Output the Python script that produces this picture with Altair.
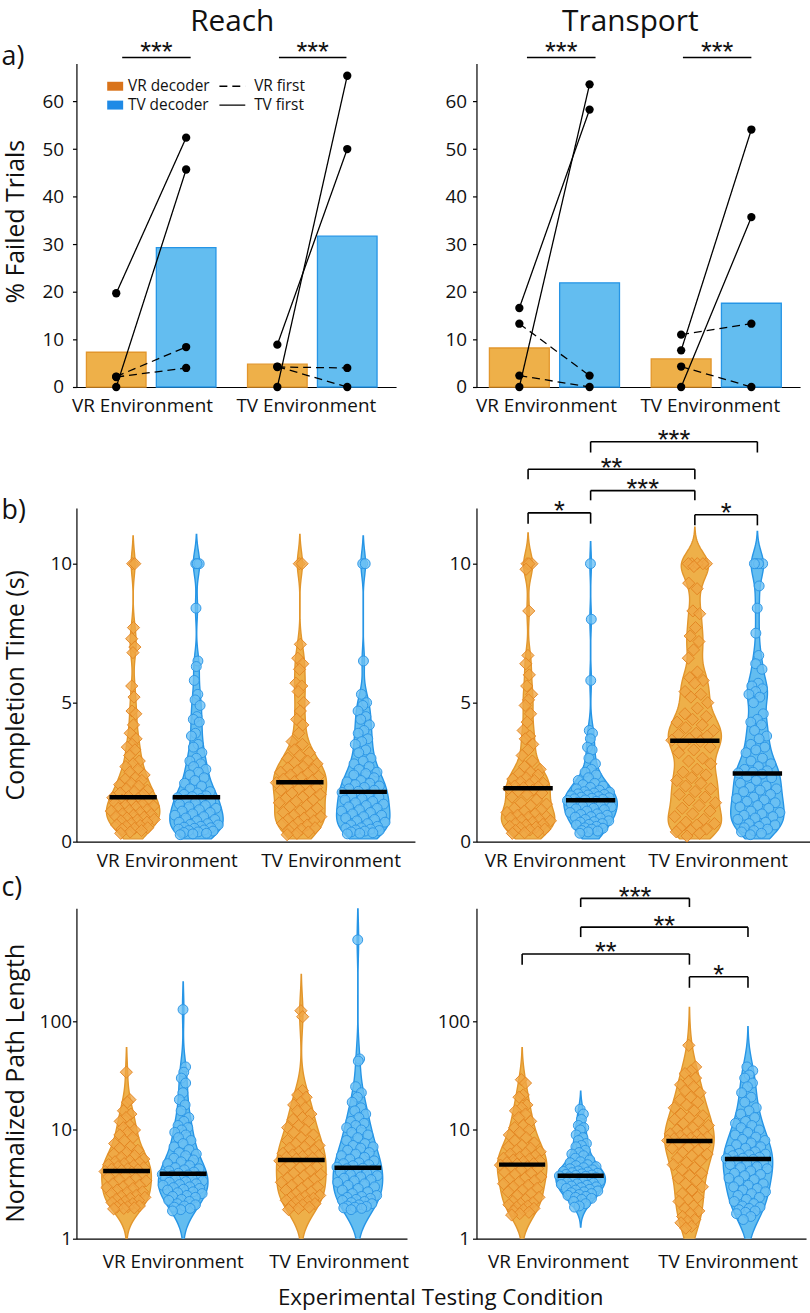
import altair as alt
import numpy as np
import pandas as pd

FONT = "Open Sans"
STAR_FONT = "Liberation Sans"
INK = "#111111"

# ------------------------------------------------------------------ data
ENVIRONMENTS = ["VR Environment", "TV Environment"]
DECODERS = ["VR", "TV"]

# a) % failed trials, bar heights per environment [VR env, TV env]
reach_fail_bar_vrdec = [7.3, 4.8]
reach_fail_bar_tvdec = [29.3, 31.7]
transport_fail_bar_vrdec = [8.2, 5.9]
transport_fail_bar_tvdec = [21.9, 17.6]

# individual participants (same order in every list)
participant_order = ["TV first", "TV first", "VR first", "VR first"]
reach_fail_vrdec_vrenv = [19.7, 0.0, 2.2, 2.1]
reach_fail_tvdec_vrenv = [52.4, 45.7, 8.4, 4.0]
reach_fail_vrdec_tvenv = [8.9, 0.0, 4.2, 4.3]
reach_fail_tvdec_tvenv = [50.0, 65.4, 4.0, 0.0]
transport_fail_vrdec_vrenv = [16.6, 0.0, 13.3, 2.4]
transport_fail_tvdec_vrenv = [58.3, 63.6, 2.4, 0.0]
transport_fail_vrdec_tvenv = [7.7, 0.0, 11.0, 4.3]
transport_fail_tvdec_tvenv = [54.1, 35.7, 13.3, 0.0]
fail_sig_labels = ["***", "***"]

# b) completion time (s)
reach_time_vrenv_vrdec = [10.0, 10.0, 7.7, 7.3, 7.0, 6.8, 5.6, 5.2, 4.7, 4.6, 4.2, 3.9, 3.7, 3.5, 3.4, 3.3, 3.1,
                          2.9, 2.8, 2.7, 2.6, 2.5, 2.4, 2.3, 2.25, 2.2, 2.1, 2.05, 2.0, 1.9, 1.85, 1.8, 1.75, 1.7, 1.62,
                          1.58, 1.55, 1.5, 1.45, 1.42, 1.4, 1.35, 1.3, 1.28, 1.25, 1.2, 1.15, 1.12, 1.1, 1.05, 1.0,
                          0.98, 0.95, 0.9, 0.88, 0.85, 0.8, 0.78, 0.75, 0.7, 0.65, 0.6, 0.58, 0.55, 0.5, 0.48, 0.45,
                          0.4, 0.35, 0.3]
reach_time_vrenv_tvdec = [10.0, 10.0, 10.0, 8.4, 6.5, 6.3, 5.8, 5.3, 5.1, 4.9, 4.5, 4.4, 4.3, 3.9, 3.8, 3.5, 3.4,
                          3.2, 3.0, 2.9, 2.8, 2.7, 2.6, 2.5, 2.4, 2.3, 2.2, 2.1, 2.0, 1.9, 1.8, 1.75, 1.7, 1.65, 1.62,
                          1.58, 1.55, 1.5, 1.45, 1.4, 1.35, 1.3, 1.25, 1.2, 1.15, 1.1, 1.05, 1.0, 0.95, 0.9, 0.85,
                          0.8, 0.75, 0.7, 0.65, 0.62, 0.6, 0.55, 0.52, 0.5, 0.48, 0.45, 0.42, 0.4, 0.38, 0.35, 0.33,
                          0.3, 0.28, 0.25]
reach_time_tvenv_vrdec = [10.0, 10.0, 7.1, 6.6, 6.4, 6.2, 5.7, 5.6, 5.4, 5.0, 4.7, 4.4, 4.2, 3.9, 3.6, 3.5, 3.3,
                          3.2, 3.1, 3.0, 2.9, 2.85, 2.8, 2.7, 2.65, 2.6, 2.55, 2.5, 2.45, 2.4, 2.35, 2.3, 2.25, 2.2,
                          2.16, 2.12, 2.05, 2.0, 1.95, 1.9, 1.85, 1.8, 1.75, 1.7, 1.6, 1.55, 1.5, 1.45, 1.4, 1.3,
                          1.25, 1.2, 1.1, 1.05, 1.0, 0.95, 0.9, 0.85, 0.8, 0.75, 0.7, 0.65, 0.6, 0.55, 0.5, 0.45,
                          0.4, 0.35, 0.3, 0.25]
reach_time_tvenv_tvdec = [10.0, 10.0, 6.5, 5.3, 5.0, 4.9, 4.7, 4.5, 4.4, 4.2, 4.0, 3.9, 3.7, 3.6, 3.5, 3.3, 3.2,
                          3.0, 2.9, 2.8, 2.7, 2.6, 2.5, 2.45, 2.4, 2.3, 2.2, 2.15, 2.1, 2.05, 2.0, 1.95, 1.9, 1.85,
                          1.81, 1.77, 1.7, 1.65, 1.6, 1.55, 1.5, 1.45, 1.4, 1.35, 1.3, 1.25, 1.2, 1.15, 1.1, 1.05,
                          1.0, 0.95, 0.9, 0.85, 0.8, 0.75, 0.7, 0.65, 0.6, 0.55, 0.5, 0.48, 0.45, 0.42, 0.4, 0.38,
                          0.35, 0.32, 0.3, 0.28]
transport_time_vrenv_vrdec = [10.0, 10.0, 10.0, 9.8, 8.3, 6.7, 6.4, 6.0, 5.6, 5.3, 5.1, 4.9, 4.6, 4.3, 4.0, 3.8,
                              3.7, 3.5, 3.3, 3.1, 2.9, 2.7, 2.6, 2.5, 2.45, 2.4, 2.3, 2.25, 2.2, 2.15, 2.1, 2.05, 2.0,
                              1.97, 1.94, 1.9, 1.85, 1.8, 1.75, 1.7, 1.6, 1.5, 1.4, 1.35, 1.3, 1.2, 1.15, 1.1, 1.05,
                              1.0, 0.95, 0.9, 0.88, 0.85, 0.8, 0.78, 0.75, 0.7, 0.65, 0.62, 0.6, 0.55, 0.52, 0.5,
                              0.45, 0.42, 0.4, 0.35, 0.32, 0.3]
transport_time_vrenv_tvdec = [10.0, 8.0, 5.8, 4.0, 3.9, 3.7, 3.4, 3.3, 3.0, 2.8, 2.6, 2.5, 2.4, 2.3, 2.2, 2.1,
                              2.05, 2.0, 1.95, 1.9, 1.85, 1.8, 1.78, 1.75, 1.72, 1.7, 1.68, 1.65, 1.62, 1.6, 1.58,
                              1.56, 1.54, 1.52, 1.5, 1.48, 1.45, 1.42, 1.4, 1.38, 1.35, 1.3, 1.28, 1.25, 1.2, 1.18,
                              1.15, 1.1, 1.05, 1.0, 0.98, 0.95, 0.9, 0.88, 0.85, 0.8, 0.75, 0.72, 0.7, 0.65, 0.62,
                              0.6, 0.55, 0.5, 0.48, 0.45, 0.4, 0.38, 0.35, 0.3]
transport_time_tvenv_vrdec = [10.0, 10.0, 10.0, 10.0, 10.0, 9.9, 9.3, 9.1, 8.3, 8.2, 7.7, 7.4, 7.2, 6.9, 6.6, 6.1,
                              5.9, 5.8, 5.7, 5.4, 5.3, 5.2, 5.0, 4.8, 4.6, 4.5, 4.4, 4.3, 4.2, 4.1, 4.0, 3.9, 3.85,
                              3.8, 3.7, 3.65, 3.61, 3.5, 3.4, 3.3, 3.2, 3.0, 2.9, 2.8, 2.6, 2.5, 2.4, 2.3, 2.2, 2.1,
                              2.0, 1.9, 1.8, 1.7, 1.6, 1.5, 1.4, 1.3, 1.2, 1.1, 1.0, 0.9, 0.8, 0.7, 0.65, 0.6, 0.5,
                              0.45, 0.4, 0.35, 0.3, 0.2]
transport_time_tvenv_tvdec = [10.0, 10.0, 10.0, 10.0, 9.2, 8.4, 7.5, 6.7, 6.4, 6.2, 5.7, 5.6, 5.5, 5.4, 5.3, 5.2,
                              5.0, 4.6, 4.4, 4.3, 4.2, 4.0, 3.8, 3.7, 3.5, 3.4, 3.3, 3.2, 3.0, 2.9, 2.8, 2.7, 2.6,
                              2.55, 2.5, 2.47, 2.43, 2.35, 2.3, 2.2, 2.1, 2.0, 1.95, 1.9, 1.85, 1.8, 1.7, 1.6, 1.55,
                              1.5, 1.45, 1.4, 1.3, 1.25, 1.2, 1.1, 1.05, 1.0, 0.95, 0.9, 0.85, 0.8, 0.7, 0.65, 0.6,
                              0.55, 0.5, 0.45, 0.4, 0.35, 0.3, 0.25]
time_brackets = [((0, "VR"), (0, "TV"), 11.83, 11.44, "*"),
                 ((0, "TV"), (1, "VR"), 12.63, 12.28, "***"),
                 ((0, "VR"), (1, "VR"), 13.40, 13.04, "**"),
                 ((0, "TV"), (1, "TV"), 14.39, 14.00, "***"),
                 ((1, "VR"), (1, "TV"), 11.76, 11.38, "*")]

# c) normalized path length
reach_path_vrenv_vrdec = [34, 19, 18, 15, 14, 13, 12, 11, 10.5, 10, 9.5, 9, 8.5, 8, 7.5, 7, 6.8, 6.5, 6.2, 6,
                          5.8, 5.6, 5.4, 5.2, 5.1, 5, 4.9, 4.8, 4.7, 4.6, 4.5, 4.4, 4.35, 4.3, 4.25, 4.15, 4.1,
                          4.0, 3.9, 3.8, 3.7, 3.6, 3.5, 3.4, 3.3, 3.2, 3.1, 3.0, 2.95, 2.9, 2.8, 2.7, 2.65, 2.6,
                          2.5, 2.45, 2.4, 2.35, 2.3, 2.25, 2.2, 2.15, 2.1, 2.05, 2.0, 1.97, 1.95, 1.92, 1.9, 1.88]
reach_path_vrenv_tvdec = [128, 38, 34, 30, 27, 22, 19, 17, 15, 13, 12, 11, 10.5, 10, 9.5, 9, 8.5, 8, 7.5, 7,
                          6.6, 6.2, 6, 5.8, 5.5, 5.3, 5.1, 4.9, 4.7, 4.5, 4.4, 4.3, 4.2, 4.1, 4.0, 3.9, 3.85, 3.8,
                          3.75, 3.7, 3.6, 3.55, 3.5, 3.4, 3.35, 3.3, 3.2, 3.15, 3.1, 3.0, 2.95, 2.9, 2.85, 2.8,
                          2.7, 2.65, 2.6, 2.5, 2.45, 2.4, 2.3, 2.25, 2.2, 2.1, 2.05, 2.0, 1.95, 1.9, 1.85, 1.8]
reach_path_tvenv_vrdec = [125, 110, 23, 21, 20, 18, 17, 16, 15, 14, 13, 12.5, 12, 11, 10.5, 10, 9.5, 9, 8.5, 8,
                          7.8, 7.5, 7.2, 7, 6.8, 6.5, 6.3, 6.1, 6, 5.9, 5.8, 5.7, 5.6, 5.5, 5.4, 5.2, 5.0, 4.8,
                          4.6, 4.5, 4.3, 4.2, 4.0, 3.9, 3.8, 3.6, 3.5, 3.4, 3.3, 3.2, 3.1, 3.0, 2.9, 2.8, 2.7,
                          2.6, 2.5, 2.45, 2.4, 2.35, 2.3, 2.25, 2.2, 2.15, 2.1, 2.05, 2.0, 1.95, 1.9, 1.85]
reach_path_tvenv_tvdec = [560, 45, 43, 25, 22, 20, 18, 16, 15, 14, 13, 12, 11.5, 11, 10.5, 10, 9.5, 9, 8.5, 8,
                          7.5, 7.2, 7, 6.8, 6.5, 6.2, 6, 5.8, 5.6, 5.4, 5.2, 5, 4.9, 4.8, 4.7, 4.55, 4.45, 4.4,
                          4.3, 4.2, 4.1, 4.0, 3.9, 3.8, 3.7, 3.6, 3.5, 3.4, 3.3, 3.2, 3.1, 3.0, 2.9, 2.8, 2.7,
                          2.6, 2.5, 2.45, 2.4, 2.35, 2.3, 2.25, 2.2, 2.15, 2.1, 2.05, 2.0, 1.98, 1.95, 1.92, 1.9,
                          1.85]
transport_path_vrenv_vrdec = [29, 27, 21, 20, 17, 16, 15, 14, 13, 12, 11, 10.5, 10, 9.5, 9, 8.5, 8, 7.6, 7.2, 7,
                              6.8, 6.5, 6.3, 6.1, 6, 5.8, 5.6, 5.5, 5.4, 5.3, 5.2, 5.1, 5, 4.9, 4.85, 4.75, 4.6,
                              4.5, 4.4, 4.3, 4.1, 4.0, 3.9, 3.7, 3.6, 3.5, 3.4, 3.3, 3.2, 3.1, 3.0, 2.9, 2.8, 2.7,
                              2.6, 2.5, 2.4, 2.3, 2.2, 2.15, 2.1, 2.05, 2.0, 1.95, 1.9, 1.85, 1.8, 1.75, 1.7, 1.65]
transport_path_vrenv_tvdec = [15.5, 14, 12.5, 11, 10.5, 10, 9, 8.5, 8, 7.5, 7.2, 7, 6.5, 6.2, 6, 5.8, 5.5, 5.3,
                              5.1, 5, 4.8, 4.7, 4.6, 4.5, 4.4, 4.3, 4.2, 4.15, 4.1, 4.05, 4, 3.95, 3.9, 3.85, 3.82,
                              3.78, 3.75, 3.7, 3.65, 3.6, 3.55, 3.5, 3.45, 3.4, 3.35, 3.3, 3.25, 3.2, 3.15, 3.1,
                              3.05, 3.0, 2.95, 2.9, 2.85, 2.8, 2.75, 2.7, 2.65, 2.6, 2.55, 2.5, 2.45, 2.4, 2.35,
                              2.3, 2.2, 2.1, 2.0, 1.95]
transport_path_tvenv_vrdec = [60, 38, 35, 33, 30, 28, 26, 25, 23, 22, 20, 19, 18, 17, 16, 15, 14, 13.5, 13, 12.5,
                              12, 11.5, 11, 10.5, 10, 9.8, 9.5, 9.2, 9, 8.8, 8.6, 8.4, 8.3, 8.2, 8.1, 8.0, 7.8, 7.5,
                              7.2, 7.0, 6.8, 6.5, 6.2, 6.0, 5.8, 5.5, 5.2, 5.0, 4.8, 4.5, 4.3, 4.0, 3.8, 3.6, 3.4,
                              3.2, 3.0, 2.8, 2.6, 2.4, 2.3, 2.2, 2.0, 1.9, 1.8, 1.7, 1.6, 1.5, 1.45, 1.4, 1.3, 1.25]
transport_path_tvenv_tvdec = [38, 35, 32, 30, 27, 25, 22, 20, 18, 16, 15, 14, 13, 12, 11.5, 11, 10.5, 10, 9.5, 9,
                              8.6, 8.2, 8, 7.6, 7.3, 7, 6.8, 6.5, 6.3, 6.1, 6, 5.9, 5.8, 5.6, 5.5, 5.45, 5.35, 5.2,
                              5.0, 4.9, 4.8, 4.6, 4.5, 4.4, 4.2, 4.0, 3.9, 3.8, 3.6, 3.5, 3.4, 3.2, 3.1, 3.0, 2.9,
                              2.8, 2.7, 2.6, 2.5, 2.4, 2.3, 2.2, 2.1, 2.0, 1.95, 1.9, 1.85, 1.8, 1.75, 1.7, 1.6, 1.5]
path_brackets = [((0, "TV"), (1, "VR"), 1349, 1122, "***"),
                 ((0, "TV"), (1, "TV"), 733, 594, "**"),
                 ((0, "VR"), (1, "VR"), 415, 331, "**"),
                 ((1, "VR"), (1, "TV"), 256, 203, "*")]

# ------------------------------------------------------------------ styles
BAR_FILL = {"VR": "#EEB049", "TV": "#63BDF0"}
BAR_EDGE = {"VR": "#E2962C", "TV": "#2695E6"}
SWATCH = {"VR": "#D9731A", "TV": "#1F8AE6"}
VIO_FILL = {"VR": "#F7CB7E", "TV": "#9ED4F6"}
VIO_EDGE = {"VR": "#F0AD48", "TV": "#62B9F0"}
PT_FILL = {"VR": "#F0A645", "TV": "#6BC0F3"}
PT_EDGE = {"VR": "#E28522", "TV": "#2A95E5"}
ENV_EXPR = "datum.value < 1.5 ? 'VR Environment' : 'TV Environment'"


def env_axis(values, pad):
    return alt.Axis(values=values, labelExpr=ENV_EXPR, ticks=False, tickSize=0, labelPadding=pad,
                    title=None, grid=False, labelFlush=False, labelOverlap=False, labelAngle=0)


def y_axis(values, pad, title=None, title_y=0, fmt=None):
    kw = dict(values=values, tickSize=4, labelPadding=pad, grid=False)
    if fmt:
        kw["format"] = fmt
    if title:
        kw.update(title=title, titleX=-61, titleY=title_y, titleAngle=-90, titleAlign="center",
                  titleBaseline="middle")
    else:
        kw["title"] = None
    return alt.Axis(**kw)


def text_layer(text, x, y, size, font=FONT, align="center", baseline="alphabetic"):
    return alt.Chart(pd.DataFrame({"t": [text]})).mark_text(
        font=font, fontSize=size, align=align, baseline=baseline, color=INK
    ).encode(text="t:N", x=alt.value(x), y=alt.value(y))


# ------------------------------------------------------------------ row a
BAR_OFF = 0.217
BAR_HALF = 0.185


def failed_panel(bar_vr, bar_tv, vr_pts, tv_pts, xdom, width, label_vals, ylab_pad, sig_offsets,
                 extra_layers, ytitle=None):
    xs = alt.Scale(domain=xdom, nice=False, zero=False)
    ys = alt.Scale(domain=[0, 68], nice=False, zero=False)
    xax = env_axis(label_vals, 10)
    yax = y_axis([0, 10, 20, 30, 40, 50, 60], ylab_pad, ytitle, 159)

    bar_rows = []
    for e in range(2):
        bar_rows.append({"dec": "VR", "value": bar_vr[e], "pos": e + 1 - BAR_OFF})
        bar_rows.append({"dec": "TV", "value": bar_tv[e], "pos": e + 1 + BAR_OFF})
    bars = alt.Chart(pd.DataFrame(bar_rows)).transform_calculate(
        xl=f"datum.pos - {BAR_HALF}", xr=f"datum.pos + {BAR_HALF}", base="0"
    ).mark_rect(strokeWidth=1.3).encode(
        x=alt.X("xl:Q", scale=xs, axis=xax), x2="xr:Q",
        y=alt.Y("value:Q", scale=ys, axis=yax), y2="base:Q",
        fill=alt.Fill("dec:N", scale=alt.Scale(domain=DECODERS, range=[BAR_FILL["VR"], BAR_FILL["TV"]]), legend=None),
        stroke=alt.Stroke("dec:N", scale=alt.Scale(domain=DECODERS, range=[BAR_EDGE["VR"], BAR_EDGE["TV"]]), legend=None),
    )

    line_rows = []
    for e in range(2):
        for p in range(len(participant_order)):
            lid = f"{e}-{p}"
            line_rows.append({"lid": lid, "order": participant_order[p], "x": e + 1 - BAR_OFF, "y": vr_pts[e][p]})
            line_rows.append({"lid": lid, "order": participant_order[p], "x": e + 1 + BAR_OFF, "y": tv_pts[e][p]})
    ldf = pd.DataFrame(line_rows)
    lines = alt.Chart(ldf).mark_line(color="black", strokeWidth=1.3).encode(
        x=alt.X("x:Q", scale=xs, axis=xax), y=alt.Y("y:Q", scale=ys, axis=yax), detail="lid:N",
        strokeDash=alt.StrokeDash("order:N", scale=alt.Scale(domain=["VR first", "TV first"], range=[[8, 5], [1, 0]]), legend=None),
    )
    dots = alt.Chart(ldf).mark_circle(color="black", size=70, opacity=1).encode(
        x=alt.X("x:Q", scale=xs, axis=xax), y=alt.Y("y:Q", scale=ys, axis=yax))

    sig = pd.DataFrame({"x1": [1 + sig_offsets[0][0], 2 + sig_offsets[1][0]],
                        "x2": [1 + sig_offsets[0][1], 2 + sig_offsets[1][1]],
                        "y": [69.25, 69.25], "lab": fail_sig_labels})
    sig["xm"] = (sig["x1"] + sig["x2"]) / 2
    sig_lines = alt.Chart(sig).mark_rule(color="black", strokeWidth=1.6).encode(
        x=alt.X("x1:Q", scale=xs, axis=xax), x2="x2:Q", y=alt.Y("y:Q", scale=ys, axis=yax))
    sig_text = alt.Chart(sig).mark_text(font=STAR_FONT, fontSize=28, baseline="alphabetic", dy=3.5, color=INK).encode(
        x=alt.X("xm:Q", scale=xs, axis=xax), y=alt.Y("y:Q", scale=ys, axis=yax), text="lab:N")

    layers = [bars, lines, dots, sig_lines, sig_text]
    for make in extra_layers:
        layers.extend(make(xs, ys, xax, yax))
    return alt.layer(*layers).properties(width=width, height=326)


def legend_layers(xs, ys, xax, yax):
    out = []
    for dec, yy, label, order in (("VR", 63.2, "VR decoder", "VR first"), ("TV", 59.24, "TV decoder", "TV first")):
        sw = pd.DataFrame({"x": [0.727], "x2": [0.826], "y": [yy + 0.94], "y2": [yy - 0.94]})
        out.append(alt.Chart(sw).mark_rect(color=SWATCH[dec]).encode(
            x=alt.X("x:Q", scale=xs, axis=xax), x2="x2:Q", y=alt.Y("y:Q", scale=ys, axis=yax), y2="y2:Q"))
        tx = pd.DataFrame({"x": [0.856], "y": [yy], "t": [label]})
        out.append(alt.Chart(tx).mark_text(font=FONT, fontSize=15.5, align="left", baseline="middle", color=INK).encode(
            x=alt.X("x:Q", scale=xs, axis=xax), y=alt.Y("y:Q", scale=ys, axis=yax), text="t:N"))
        ln = pd.DataFrame({"x": [1.4235], "x2": [1.584], "y": [yy]})
        dash = [8, 5] if order == "VR first" else [1, 0]
        out.append(alt.Chart(ln).mark_rule(color="black", strokeWidth=1.3, strokeDash=dash).encode(
            x=alt.X("x:Q", scale=xs, axis=xax), x2="x2:Q", y=alt.Y("y:Q", scale=ys, axis=yax)))
        tx2 = pd.DataFrame({"x": [1.639], "y": [yy], "t": [order]})
        out.append(alt.Chart(tx2).mark_text(font=FONT, fontSize=15.5, align="left", baseline="middle", color=INK).encode(
            x=alt.X("x:Q", scale=xs, axis=xax), y=alt.Y("y:Q", scale=ys, axis=yax), text="t:N"))
    return out


# ------------------------------------------------------------------ rows b, c
def kde_jitter(vals, log, hw, bw=None, frac=0.88):
    t = np.log10(np.asarray(vals, float)) if log else np.asarray(vals, float)
    n = len(t)
    if not bw:
        sd = t.std(ddof=1)
        q1, q3 = np.percentile(t, [25, 75])
        v = min(sd, (q3 - q1) / 1.34) or sd
        bw = 1.06 * v * n ** -0.2
    grid = np.linspace(t.min() - 3 * bw, t.max() + 3 * bw, 600)

    def dens(z):
        return np.exp(-0.5 * ((z[:, None] - t[None, :]) / bw) ** 2).sum(axis=1)

    dn = dens(t) / dens(grid).max()
    u = 2 * ((np.arange(n) * 0.6180339887 + 0.37) % 1.0) - 1
    return u * frac * hw * dn


def violin_panel(groups, off, hw, med_hw, log, xdom, width, height, ydom, yvals, ylab_pad, xlab_vals,
                 xlab_pad, extent, bw=None, ytitle=None, ytitle_y=0, brackets=(), extra=()):
    centers = {(e, d): (e + 1) + (-off if d == "VR" else off) for e in (0, 1) for d in DECODERS}
    rows = []
    for (e, d), vals in groups.items():
        jit = kde_jitter(vals, log, hw, bw)
        for v, j in zip(vals, jit):
            rows.append({"grp": f"{e}{d}", "dec": d, "v": v, "center": centers[(e, d)],
                         "xj": centers[(e, d)] + j})
    df = pd.DataFrame(rows)
    xs = alt.Scale(domain=xdom, nice=False, zero=False)
    ys = alt.Scale(type="log", domain=ydom, nice=False) if log else alt.Scale(domain=ydom, nice=False, zero=False)
    xax = env_axis(xlab_vals, xlab_pad)
    yax = y_axis(yvals, ylab_pad, ytitle, ytitle_y, "d" if log else None)
    to_l = "log(datum.v) / LN10" if log else "datum.v"
    from_l = "pow(10, datum.lv)" if log else "datum.lv"

    dens_kw = dict(as_=["lv", "dens"], groupby=["grp", "dec", "center"], extent=extent, steps=240)
    if bw:
        dens_kw["bandwidth"] = bw
    violins = alt.Chart(df).transform_calculate(lv=to_l).transform_density(
        "lv", **dens_kw
    ).transform_joinaggregate(maxd="max(dens)", groupby=["grp"]).transform_filter(
        "datum.dens / datum.maxd > 0.006"
    ).transform_calculate(w=f"datum.dens / datum.maxd * {hw}", yv=from_l).transform_calculate(
        xl="datum.center - datum.w", xr="datum.center + datum.w"
    ).mark_area(orient="horizontal", clip=True, strokeWidth=1.4).encode(
        y=alt.Y("yv:Q", scale=ys, axis=yax), x=alt.X("xl:Q", scale=xs, axis=xax), x2="xr:Q",
        fill=alt.Fill("dec:N", scale=alt.Scale(domain=DECODERS, range=[VIO_FILL["VR"], VIO_FILL["TV"]]), legend=None),
        stroke=alt.Stroke("dec:N", scale=alt.Scale(domain=DECODERS, range=[VIO_EDGE["VR"], VIO_EDGE["TV"]]), legend=None),
        detail="grp:N",
    )
    layers = [violins]
    for d, shape, size in (("VR", "diamond", 150), ("TV", "circle", 100)):
        layers.append(alt.Chart(df).transform_filter(f"datum.dec == '{d}'").mark_point(
            shape=shape, size=size, filled=True, fill=PT_FILL[d], stroke=PT_EDGE[d], strokeWidth=1,
            fillOpacity=0.78, strokeOpacity=0.95
        ).encode(x=alt.X("xj:Q", scale=xs, axis=xax), y=alt.Y("v:Q", scale=ys, axis=yax)))
    layers.append(alt.Chart(df).transform_aggregate(med="median(v)", groupby=["grp", "center"]).transform_calculate(
        xl=f"datum.center - {med_hw}", xr=f"datum.center + {med_hw}"
    ).mark_rule(color="black", strokeWidth=4.5).encode(
        x=alt.X("xl:Q", scale=xs, axis=xax), x2="xr:Q", y=alt.Y("med:Q", scale=ys, axis=yax)))

    if brackets:
        seg, lab = [], []
        for g1, g2, lvl, drop, text in brackets:
            x1, x2 = centers[g1], centers[g2]
            seg.append({"x": x1, "x2": x2, "y": lvl, "y2": lvl})
            seg.append({"x": x1, "x2": x1, "y": lvl, "y2": drop})
            seg.append({"x": x2, "x2": x2, "y": lvl, "y2": drop})
            lab.append({"x": (x1 + x2) / 2, "y": lvl, "t": text})
        layers.append(alt.Chart(pd.DataFrame(seg)).mark_rule(color="black", strokeWidth=1.6).encode(
            x=alt.X("x:Q", scale=xs, axis=xax), x2="x2:Q", y=alt.Y("y:Q", scale=ys, axis=yax), y2="y2:Q"))
        layers.append(alt.Chart(pd.DataFrame(lab)).mark_text(
            font=STAR_FONT, fontSize=28, baseline="alphabetic", dy=7.5, color=INK
        ).encode(x=alt.X("x:Q", scale=xs, axis=xax), y=alt.Y("y:Q", scale=ys, axis=yax), text="t:N"))
    layers.extend(extra)
    return alt.layer(*layers).properties(width=width, height=height)


def spacer(w, h):
    return alt.Chart(pd.DataFrame({"t": [0]})).mark_point(opacity=0, size=1).encode(
        x=alt.value(0), y=alt.value(0)).properties(width=w, height=h)


# ------------------------------------------------------------------ assemble
anchor = alt.Chart(pd.DataFrame({"t": [0]})).mark_rule(color="white", strokeWidth=1).encode(
    x=alt.value(-76), x2=alt.value(-75), y=alt.value(-58))

a_left = failed_panel(
    reach_fail_bar_vrdec, reach_fail_bar_tvdec,
    [reach_fail_vrdec_vrenv, reach_fail_vrdec_tvenv], [reach_fail_tvdec_vrenv, reach_fail_tvdec_tvenv],
    [0.536, 2.52], 322, [0.943, 1.96], 9, [(-0.18, 0.245), (-0.207, 0.212)],
    [legend_layers, lambda *a: [text_layer("Reach", 157, -33, 30), text_layer("a)", -75.5, 2, 27, align="left"), anchor]],
    ytitle="% Failed Trials")
a_right = failed_panel(
    transport_fail_bar_vrdec, transport_fail_bar_tvdec,
    [transport_fail_vrdec_vrenv, transport_fail_vrdec_tvenv], [transport_fail_tvdec_vrenv, transport_fail_tvdec_tvenv],
    [0.518, 2.518], 326, [0.947, 1.96], 6, [(-0.17, 0.254), (-0.206, 0.217)],
    [lambda *a: [text_layer("Transport", 155, -33, 30)]])

b_left = violin_panel(
    {(0, "VR"): reach_time_vrenv_vrdec, (0, "TV"): reach_time_vrenv_tvdec,
     (1, "VR"): reach_time_tvenv_vrdec, (1, "TV"): reach_time_tvenv_tvdec},
    0.19, 0.16, 0.142, False, [0.47, 2.5], 341, 336, [0, 12], [0, 5, 10], 1, [1.012, 1.994], 10,
    [0.1, 12.5], bw=0.45, ytitle="Completion Time (s)", ytitle_y=178,
    extra=[text_layer("b)", -75.5, 11, 27, align="left")])
b_right = violin_panel(
    {(0, "VR"): transport_time_vrenv_vrdec, (0, "TV"): transport_time_vrenv_tvdec,
     (1, "VR"): transport_time_tvenv_vrdec, (1, "TV"): transport_time_tvenv_tvdec},
    0.1875, 0.16, 0.148, False, [0.503, 2.503], 336, 336, [0, 12], [0, 5, 10], 2, [0.973, 1.949], 10,
    [0.1, 12.5], bw=0.45, brackets=time_brackets)

c_left = violin_panel(
    {(0, "VR"): reach_path_vrenv_vrdec, (0, "TV"): reach_path_vrenv_tvdec,
     (1, "VR"): reach_path_tvenv_vrdec, (1, "TV"): reach_path_tvenv_tvdec},
    0.162, 0.142, 0.134, True, [0.551, 2.443], 333, 333, [1, 1096], [1, 10, 100], 1, [1.102, 2.051], 14,
    [-0.1, 3.2], ytitle="Normalized Path Length", ytitle_y=176,
    extra=[text_layer("c)", -75.5, -12, 27, align="left"),
           text_layer("Experimental Testing Condition", 367, 400, 22.5)])
c_right = violin_panel(
    {(0, "VR"): transport_path_vrenv_vrdec, (0, "TV"): transport_path_vrenv_tvdec,
     (1, "VR"): transport_path_tvenv_vrdec, (1, "TV"): transport_path_tvenv_tvdec},
    0.175, 0.148, 0.138, True, [0.552, 2.522], 332, 333, [1, 1096], [1, 10, 100], 3, [1.039, 2.053], 14,
    [-0.1, 3.2], brackets=path_brackets)

cells = [
    a_left, spacer(58, 326), a_right,
    spacer(1, 122), spacer(1, 122), spacer(1, 122),
    b_left, spacer(55, 336), b_right,
    spacer(1, 67), spacer(1, 67), spacer(1, 67),
    c_left, spacer(62, 333), c_right,
]

chart = alt.concat(*cells, columns=3, spacing=0, bounds="flush", align="none").properties(
    padding=0, background="white"
).configure_view(stroke=None).configure_axis(
    domainColor="black", domainWidth=1.2, tickColor="black", tickWidth=1.2,
    labelFont=FONT, labelFontSize=19, labelColor=INK,
    titleFont=FONT, titleFontSize=25, titleFontWeight="normal", titleColor=INK,
)

chart.save("out.html", embed_options={"renderer": "svg", "actions": False})
